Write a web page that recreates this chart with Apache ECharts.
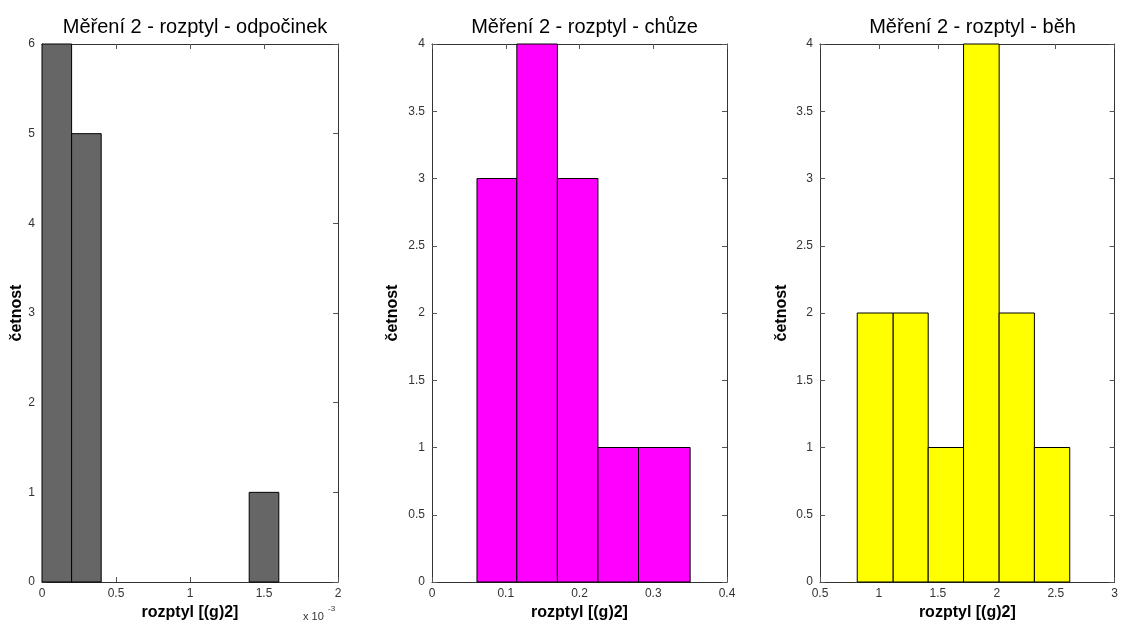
<!DOCTYPE html>
<html>
<head>
<meta charset="utf-8">
<script src="https://cdn.jsdelivr.net/npm/echarts@6/dist/echarts.min.js"></script>
<style>html,body{margin:0;padding:0;background:#fff}#c{width:1121px;height:626px}</style>
</head>
<body>
<div id="c"></div>
<script>
// ---- data ----
const titles = ['Měření 2 - rozptyl - odpočinek', 'Měření 2 - rozptyl - chůze', 'Měření 2 - rozptyl - běh'];
const xName = 'rozptyl [(g)2]';
const yName = 'četnost';
const restEdges = [0, 0.0002, 0.0004, 0.0006, 0.0008, 0.0010, 0.0012, 0.0014, 0.0016, 0.0018, 0.0020];
const restCounts = [6, 5, 0, 0, 0, 0, 0, 1, 0, 0];
const walkEdges = [0.061, 0.115, 0.170, 0.225, 0.280, 0.350];
const walkCounts = [3, 4, 3, 1, 1];
const runEdges = [0.816, 1.121, 1.418, 1.718, 2.020, 2.319, 2.619];
const runCounts = [2, 2, 1, 4, 2, 1];
const xRanges = [[0, 0.002, 0.0005], [0, 0.4, 0.1], [0.5, 3, 0.5]];
const yRanges = [[0, 6, 1], [0, 4, 0.5], [0, 4, 0.5]];
const colors = ['#666666', '#ff00ff', '#ffff00'];

function bins(edges, counts) {
  return counts.map((c, i) => [edges[i], edges[i + 1], c]);
}
const datasets = [bins(restEdges, restCounts), bins(walkEdges, walkCounts), bins(runEdges, runCounts)];

const FONT = '"Liberation Sans", Arial, Helvetica, sans-serif';
const grids = [
  {left: 42, width: 296, top: 44, bottom: 44},
  {left: 432, width: 295, top: 44, bottom: 44},
  {left: 820, width: 295, top: 44, bottom: 44}
];
const yNameGaps = [17, 31, 30];

function lineStyle() { return {color: '#333', width: 1}; }
function tick() { return {show: true, inside: true, length: 5, lineStyle: {color: '#555', width: 1}}; }

const xAxes = [], yAxes = [], series = [], title = [];
grids.forEach((g, i) => {
  const xr = xRanges[i], yr = yRanges[i];
  xAxes.push({
    type: 'value', gridIndex: i, position: 'bottom', min: xr[0], max: xr[1], interval: xr[2],
    axisLine: {show: true, onZero: false, lineStyle: lineStyle()}, axisTick: tick(), splitLine: {show: false},
    axisLabel: {
      color: '#333', fontSize: 12, fontFamily: FONT, margin: 6,
      formatter: i === 0 ? (v => String(Math.round(v * 10000) / 10)) : null
    },
    name: xName, nameLocation: 'middle', nameGap: 22,
    nameTextStyle: {fontSize: 16, fontWeight: 'bold', color: '#000', fontFamily: FONT}
  });
  xAxes.push({
    type: 'value', gridIndex: i, position: 'top', min: xr[0], max: xr[1], interval: xr[2],
    axisLine: {show: true, onZero: false, lineStyle: lineStyle()}, axisTick: tick(), splitLine: {show: false},
    axisLabel: {show: false}
  });
  yAxes.push({
    type: 'value', gridIndex: i, position: 'left', min: yr[0], max: yr[1], interval: yr[2],
    axisLine: {show: true, onZero: false, lineStyle: lineStyle()}, axisTick: tick(), splitLine: {show: false},
    axisLabel: {color: '#333', fontSize: 12, fontFamily: FONT, margin: 7},
    name: yName, nameLocation: 'middle', nameGap: yNameGaps[i],
    nameTextStyle: {fontSize: 16, fontWeight: 'bold', color: '#000', fontFamily: FONT}
  });
  yAxes.push({
    type: 'value', gridIndex: i, position: 'right', min: yr[0], max: yr[1], interval: yr[2],
    axisLine: {show: true, onZero: false, lineStyle: lineStyle()}, axisTick: tick(), splitLine: {show: false},
    axisLabel: {show: false}
  });
  const color = colors[i];
  series.push({
    type: 'custom', xAxisIndex: 2 * i, yAxisIndex: 2 * i,
    data: datasets[i], encode: {x: [0, 1], y: 2},
    renderItem: function (params, api) {
      const y = api.value(2);
      if (!y) return null;
      const p0 = api.coord([api.value(0), 0]);
      const p1 = api.coord([api.value(1), y]);
      return {
        type: 'rect',
        shape: {x: p0[0], y: p1[1], width: p1[0] - p0[0], height: p0[1] - p1[1]},
        style: {fill: color, stroke: '#000', lineWidth: 1}
      };
    }
  });
  title.push({
    text: titles[i], left: g.left + g.width / 2, top: 12, textAlign: 'center',
    textStyle: {fontSize: 20, fontWeight: 'normal', color: '#000', fontFamily: FONT}
  });
});

const chart = echarts.init(document.getElementById('c'), null, {renderer: 'canvas'});
chart.setOption({
  backgroundColor: '#fff',
  animation: false,
  title: title,
  grid: grids,
  xAxis: xAxes,
  yAxis: yAxes,
  series: series,
  graphic: [
    {type: 'text', left: 303, top: 611, style: {text: 'x 10', fontSize: 11, fontFamily: FONT, fill: '#333'}},
    {type: 'text', left: 328, top: 605, style: {text: '-3', fontSize: 8, fontFamily: FONT, fill: '#333'}}
  ]
});
</script>
</body>
</html>
